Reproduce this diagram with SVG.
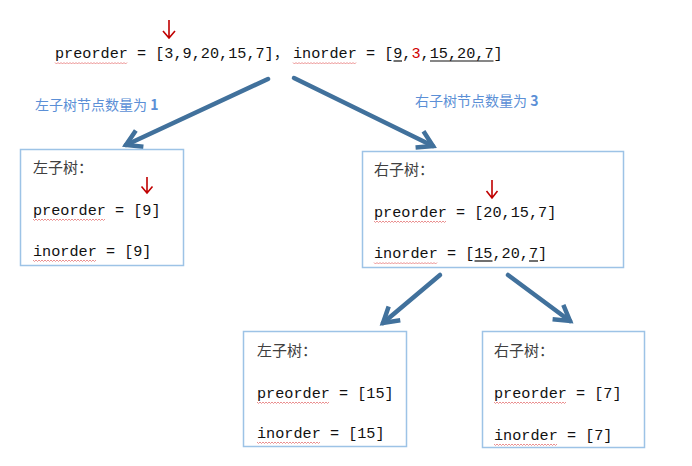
<svg xmlns="http://www.w3.org/2000/svg" width="692" height="466" viewBox="0 0 692 466">
<defs>
<style>
.code{font-family:"Liberation Mono","DejaVu Sans Mono",monospace;font-size:15.2px;fill:#111}
.cn{font-family:"Noto Sans CJK SC","Noto Sans",sans-serif;font-size:15px;fill:#404040}
.lbl{font-family:"Noto Sans CJK SC","Noto Sans",sans-serif;font-size:14px;fill:#5B8FD6}
.box{fill:#fff;stroke:#9DC3E6;stroke-width:1.5}
.conn{stroke:#41719C;stroke-width:4.5;fill:none;stroke-linecap:round}
.red{stroke:#C00000;stroke-width:1.6;fill:none}
.ul{stroke:#111;stroke-width:1.2}
.sq{stroke:#E57373;stroke-width:0.8;fill:none}
</style>
<marker id="ah" markerUnits="userSpaceOnUse" markerWidth="30" markerHeight="30" refX="0" refY="0" viewBox="-20 -15 30 30" orient="auto" overflow="visible">
<path d="M-15,-9 L0,0 L-15,9" fill="none" stroke="#41719C" stroke-width="4.5" stroke-linejoin="miter"/>
</marker>
</defs>
<rect width="692" height="466" fill="#fff"/>

<g id="top">
<text class="code" x="55" y="58">preorder = [3,9,20,15,7]</text>
<text class="code" x="274" y="58" style="font-family:'Noto Sans CJK SC',sans-serif;font-size:14px">，</text>
<text class="code" x="293" y="58">inorder = [9,<tspan fill="#D00000">3</tspan>,15,20,7]</text>
<line class="ul" x1="393.5" y1="61" x2="402" y2="61"/>
<line class="ul" x1="430" y1="61" x2="493.5" y2="61"/>
<path class="sq" d="M55,62.5 l1.5,1.5 l1.5,-1.5 l1.5,1.5 l1.5,-1.5 l1.5,1.5 l1.5,-1.5 l1.5,1.5 l1.5,-1.5 l1.5,1.5 l1.5,-1.5 l1.5,1.5 l1.5,-1.5 l1.5,1.5 l1.5,-1.5 l1.5,1.5 l1.5,-1.5 l1.5,1.5 l1.5,-1.5 l1.5,1.5 l1.5,-1.5 l1.5,1.5 l1.5,-1.5 l1.5,1.5 l1.5,-1.5 l1.5,1.5 l1.5,-1.5 l1.5,1.5 l1.5,-1.5 l1.5,1.5 l1.5,-1.5 l1.5,1.5 l1.5,-1.5 l1.5,1.5 l1.5,-1.5 l1.5,1.5 l1.5,-1.5 l1.5,1.5 l1.5,-1.5 l1.5,1.5 l1.5,-1.5 l1.5,1.5 l1.5,-1.5 l1.5,1.5 l1.5,-1.5 l1.5,1.5 l1.5,-1.5 l1.5,1.5 l1.5,-1.5"/>
<path class="sq" d="M293,62.5 l1.5,1.5 l1.5,-1.5 l1.5,1.5 l1.5,-1.5 l1.5,1.5 l1.5,-1.5 l1.5,1.5 l1.5,-1.5 l1.5,1.5 l1.5,-1.5 l1.5,1.5 l1.5,-1.5 l1.5,1.5 l1.5,-1.5 l1.5,1.5 l1.5,-1.5 l1.5,1.5 l1.5,-1.5 l1.5,1.5 l1.5,-1.5 l1.5,1.5 l1.5,-1.5 l1.5,1.5 l1.5,-1.5 l1.5,1.5 l1.5,-1.5 l1.5,1.5 l1.5,-1.5 l1.5,1.5 l1.5,-1.5 l1.5,1.5 l1.5,-1.5 l1.5,1.5 l1.5,-1.5 l1.5,1.5 l1.5,-1.5 l1.5,1.5 l1.5,-1.5 l1.5,1.5 l1.5,-1.5 l1.5,1.5 l1.5,-1.5"/>
<path class="red" d="M169,20 L169,38 M163,31 L169,38 L175,31"/>
</g>

<g id="labels">
<text class="lbl" x="35" y="110">左子树节点数量为 <tspan font-weight="bold">1</tspan></text>
<text class="lbl" x="415" y="106">右子树节点数量为 <tspan font-weight="bold">3</tspan></text>
</g>

<g id="connectors">
<line class="conn" x1="268" y1="79" x2="126" y2="145" marker-end="url(#ah)"/>
<line class="conn" x1="294" y1="78" x2="433" y2="146" marker-end="url(#ah)"/>
<line class="conn" x1="440" y1="275" x2="383" y2="323" marker-end="url(#ah)"/>
<line class="conn" x1="508" y1="275" x2="570" y2="321" marker-end="url(#ah)"/>
</g>

<g id="left">
<rect class="box" x="20.5" y="149.5" width="163" height="116"/>
<text class="cn" x="33" y="173">左子树：</text>
<path class="red" d="M147,177 L147,193 M141.5,186.5 L147,193 L152.5,186.5"/>
<text class="code" x="33" y="215">preorder = [9]</text>
<text class="code" x="33" y="256">inorder = [9]</text>
<path class="sq" d="M33,219 l1.5,1.5 l1.5,-1.5 l1.5,1.5 l1.5,-1.5 l1.5,1.5 l1.5,-1.5 l1.5,1.5 l1.5,-1.5 l1.5,1.5 l1.5,-1.5 l1.5,1.5 l1.5,-1.5 l1.5,1.5 l1.5,-1.5 l1.5,1.5 l1.5,-1.5 l1.5,1.5 l1.5,-1.5 l1.5,1.5 l1.5,-1.5 l1.5,1.5 l1.5,-1.5 l1.5,1.5 l1.5,-1.5 l1.5,1.5 l1.5,-1.5 l1.5,1.5 l1.5,-1.5 l1.5,1.5 l1.5,-1.5 l1.5,1.5 l1.5,-1.5 l1.5,1.5 l1.5,-1.5 l1.5,1.5 l1.5,-1.5 l1.5,1.5 l1.5,-1.5 l1.5,1.5 l1.5,-1.5 l1.5,1.5 l1.5,-1.5 l1.5,1.5 l1.5,-1.5 l1.5,1.5 l1.5,-1.5 l1.5,1.5 l1.5,-1.5"/>
<path class="sq" d="M33,260 l1.5,1.5 l1.5,-1.5 l1.5,1.5 l1.5,-1.5 l1.5,1.5 l1.5,-1.5 l1.5,1.5 l1.5,-1.5 l1.5,1.5 l1.5,-1.5 l1.5,1.5 l1.5,-1.5 l1.5,1.5 l1.5,-1.5 l1.5,1.5 l1.5,-1.5 l1.5,1.5 l1.5,-1.5 l1.5,1.5 l1.5,-1.5 l1.5,1.5 l1.5,-1.5 l1.5,1.5 l1.5,-1.5 l1.5,1.5 l1.5,-1.5 l1.5,1.5 l1.5,-1.5 l1.5,1.5 l1.5,-1.5 l1.5,1.5 l1.5,-1.5 l1.5,1.5 l1.5,-1.5 l1.5,1.5 l1.5,-1.5 l1.5,1.5 l1.5,-1.5 l1.5,1.5 l1.5,-1.5 l1.5,1.5 l1.5,-1.5"/>
</g>

<g id="right">
<rect class="box" x="362.5" y="151.5" width="261" height="116"/>
<text class="cn" x="374" y="175">右子树：</text>
<path class="red" d="M492,180 L492,198 M486.5,191 L492,198 L497.5,191"/>
<text class="code" x="374" y="217">preorder = [20,15,7]</text>
<text class="code" x="374" y="258">inorder = [15,20,7]</text>
<line class="ul" x1="474.5" y1="261" x2="492.5" y2="261"/>
<line class="ul" x1="529" y1="261" x2="538" y2="261"/>
<path class="sq" d="M374,221 l1.5,1.5 l1.5,-1.5 l1.5,1.5 l1.5,-1.5 l1.5,1.5 l1.5,-1.5 l1.5,1.5 l1.5,-1.5 l1.5,1.5 l1.5,-1.5 l1.5,1.5 l1.5,-1.5 l1.5,1.5 l1.5,-1.5 l1.5,1.5 l1.5,-1.5 l1.5,1.5 l1.5,-1.5 l1.5,1.5 l1.5,-1.5 l1.5,1.5 l1.5,-1.5 l1.5,1.5 l1.5,-1.5 l1.5,1.5 l1.5,-1.5 l1.5,1.5 l1.5,-1.5 l1.5,1.5 l1.5,-1.5 l1.5,1.5 l1.5,-1.5 l1.5,1.5 l1.5,-1.5 l1.5,1.5 l1.5,-1.5 l1.5,1.5 l1.5,-1.5 l1.5,1.5 l1.5,-1.5 l1.5,1.5 l1.5,-1.5 l1.5,1.5 l1.5,-1.5 l1.5,1.5 l1.5,-1.5 l1.5,1.5 l1.5,-1.5"/>
<path class="sq" d="M374,262.5 l1.5,1.5 l1.5,-1.5 l1.5,1.5 l1.5,-1.5 l1.5,1.5 l1.5,-1.5 l1.5,1.5 l1.5,-1.5 l1.5,1.5 l1.5,-1.5 l1.5,1.5 l1.5,-1.5 l1.5,1.5 l1.5,-1.5 l1.5,1.5 l1.5,-1.5 l1.5,1.5 l1.5,-1.5 l1.5,1.5 l1.5,-1.5 l1.5,1.5 l1.5,-1.5 l1.5,1.5 l1.5,-1.5 l1.5,1.5 l1.5,-1.5 l1.5,1.5 l1.5,-1.5 l1.5,1.5 l1.5,-1.5 l1.5,1.5 l1.5,-1.5 l1.5,1.5 l1.5,-1.5 l1.5,1.5 l1.5,-1.5 l1.5,1.5 l1.5,-1.5 l1.5,1.5 l1.5,-1.5 l1.5,1.5 l1.5,-1.5"/>
</g>

<g id="right-left">
<rect class="box" x="243.5" y="331.5" width="163" height="115"/>
<text class="cn" x="257" y="356">左子树：</text>
<text class="code" x="257" y="398">preorder = [15]</text>
<text class="code" x="257" y="438">inorder = [15]</text>
<path class="sq" d="M257,402 l1.5,1.5 l1.5,-1.5 l1.5,1.5 l1.5,-1.5 l1.5,1.5 l1.5,-1.5 l1.5,1.5 l1.5,-1.5 l1.5,1.5 l1.5,-1.5 l1.5,1.5 l1.5,-1.5 l1.5,1.5 l1.5,-1.5 l1.5,1.5 l1.5,-1.5 l1.5,1.5 l1.5,-1.5 l1.5,1.5 l1.5,-1.5 l1.5,1.5 l1.5,-1.5 l1.5,1.5 l1.5,-1.5 l1.5,1.5 l1.5,-1.5 l1.5,1.5 l1.5,-1.5 l1.5,1.5 l1.5,-1.5 l1.5,1.5 l1.5,-1.5 l1.5,1.5 l1.5,-1.5 l1.5,1.5 l1.5,-1.5 l1.5,1.5 l1.5,-1.5 l1.5,1.5 l1.5,-1.5 l1.5,1.5 l1.5,-1.5 l1.5,1.5 l1.5,-1.5 l1.5,1.5 l1.5,-1.5 l1.5,1.5 l1.5,-1.5"/>
<path class="sq" d="M257,442 l1.5,1.5 l1.5,-1.5 l1.5,1.5 l1.5,-1.5 l1.5,1.5 l1.5,-1.5 l1.5,1.5 l1.5,-1.5 l1.5,1.5 l1.5,-1.5 l1.5,1.5 l1.5,-1.5 l1.5,1.5 l1.5,-1.5 l1.5,1.5 l1.5,-1.5 l1.5,1.5 l1.5,-1.5 l1.5,1.5 l1.5,-1.5 l1.5,1.5 l1.5,-1.5 l1.5,1.5 l1.5,-1.5 l1.5,1.5 l1.5,-1.5 l1.5,1.5 l1.5,-1.5 l1.5,1.5 l1.5,-1.5 l1.5,1.5 l1.5,-1.5 l1.5,1.5 l1.5,-1.5 l1.5,1.5 l1.5,-1.5 l1.5,1.5 l1.5,-1.5 l1.5,1.5 l1.5,-1.5 l1.5,1.5 l1.5,-1.5"/>
</g>

<g id="right-right">
<rect class="box" x="482.5" y="331.5" width="162" height="116"/>
<text class="cn" x="494" y="356">右子树：</text>
<text class="code" x="494" y="398">preorder = [7]</text>
<text class="code" x="494" y="440">inorder = [7]</text>
<path class="sq" d="M494,402 l1.5,1.5 l1.5,-1.5 l1.5,1.5 l1.5,-1.5 l1.5,1.5 l1.5,-1.5 l1.5,1.5 l1.5,-1.5 l1.5,1.5 l1.5,-1.5 l1.5,1.5 l1.5,-1.5 l1.5,1.5 l1.5,-1.5 l1.5,1.5 l1.5,-1.5 l1.5,1.5 l1.5,-1.5 l1.5,1.5 l1.5,-1.5 l1.5,1.5 l1.5,-1.5 l1.5,1.5 l1.5,-1.5 l1.5,1.5 l1.5,-1.5 l1.5,1.5 l1.5,-1.5 l1.5,1.5 l1.5,-1.5 l1.5,1.5 l1.5,-1.5 l1.5,1.5 l1.5,-1.5 l1.5,1.5 l1.5,-1.5 l1.5,1.5 l1.5,-1.5 l1.5,1.5 l1.5,-1.5 l1.5,1.5 l1.5,-1.5 l1.5,1.5 l1.5,-1.5 l1.5,1.5 l1.5,-1.5 l1.5,1.5 l1.5,-1.5"/>
<path class="sq" d="M494,444 l1.5,1.5 l1.5,-1.5 l1.5,1.5 l1.5,-1.5 l1.5,1.5 l1.5,-1.5 l1.5,1.5 l1.5,-1.5 l1.5,1.5 l1.5,-1.5 l1.5,1.5 l1.5,-1.5 l1.5,1.5 l1.5,-1.5 l1.5,1.5 l1.5,-1.5 l1.5,1.5 l1.5,-1.5 l1.5,1.5 l1.5,-1.5 l1.5,1.5 l1.5,-1.5 l1.5,1.5 l1.5,-1.5 l1.5,1.5 l1.5,-1.5 l1.5,1.5 l1.5,-1.5 l1.5,1.5 l1.5,-1.5 l1.5,1.5 l1.5,-1.5 l1.5,1.5 l1.5,-1.5 l1.5,1.5 l1.5,-1.5 l1.5,1.5 l1.5,-1.5 l1.5,1.5 l1.5,-1.5 l1.5,1.5 l1.5,-1.5"/>
</g>
</svg>
